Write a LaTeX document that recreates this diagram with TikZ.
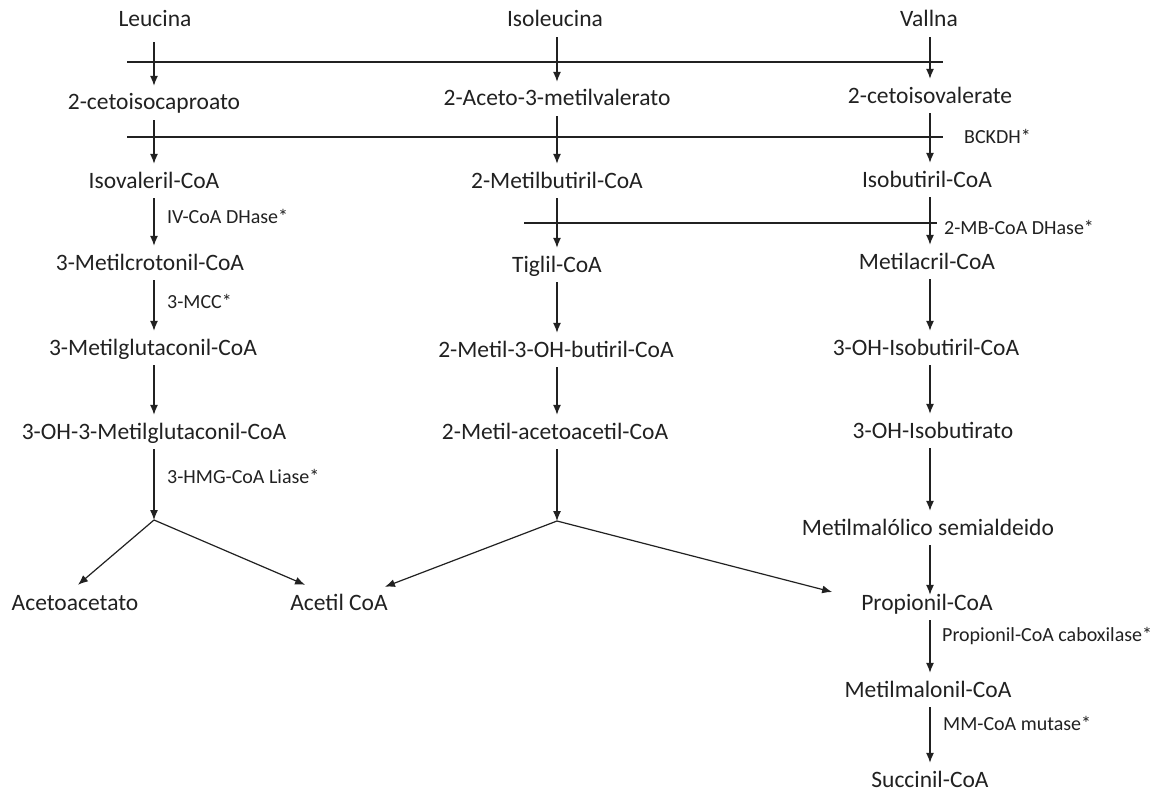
\documentclass[tikz,border=0pt]{standalone}
\usepackage{fontspec}
\setmainfont{Carlito}
\usetikzlibrary{arrows.meta,calc}
\definecolor{ink}{rgb}{0.13,0.13,0.13}
\begin{document}
\begin{tikzpicture}[x=1pt,y=-1pt,
  met/.style={anchor=base, inner xsep=0pt, inner ysep=0pt, text height=24pt, text depth=10pt,
              font=\fontsize{23.5}{28}\selectfont, text=ink},
  enz/.style={anchor=base west, inner sep=0pt, font=\fontsize{20}{24}\selectfont, text=ink},
  arr/.style={draw=ink, line width=1.2pt, -{Latex[length=10pt,width=8pt]}},
  blk/.style={draw=ink, line width=1.2pt}]
\fill[white] (0,0) rectangle (1160,792);
\useasboundingbox (0,0) rectangle (1160,792);

% columns
\coordinate (cL) at (154,0);
\coordinate (cI) at (557,0);
\coordinate (cV) at (930,0);
\coordinate (bL) at (154,520);
\coordinate (bI) at (557,521);

% metabolites
\node[met] (leu)  at (155,27)  {Leucina};
\node[met] (ile)  at (555,27)  {Isoleucina};
\node[met] (val)  at (929,27)  {Vallna};
\node[met] (kic)  at (154,110) {2-cetoisocaproato};
\node[met] (kmv)  at (557,106) {2-Aceto-3-metilvalerato};
\node[met] (kiv)  at (930,103) {2-cetoisovalerate};
\node[met] (ivc)  at (154,188) {Isovaleril-CoA};
\node[met] (mbc)  at (557,188) {2-Metilbutiril-CoA};
\node[met] (ibc)  at (927,187) {Isobutiril-CoA};
\node[met] (mcc)  at (150,270) {3-Metilcrotonil-CoA};
\node[met] (tig)  at (557,272) {Tiglil-CoA};
\node[met] (mac)  at (927,269) {Metilacril-CoA};
\node[met] (mgc)  at (153,355) {3-Metilglutaconil-CoA};
\node[met] (mhb)  at (556,357) {2-Metil-3-OH-butiril-CoA};
\node[met] (hibc) at (926,355) {3-OH-Isobutiril-CoA};
\node[met] (hmg)  at (154,439) {3-OH-3-Metilglutaconil-CoA};
\node[met] (maa)  at (555,439) {2-Metil-acetoacetil-CoA};
\node[met] (hib)  at (933,438) {3-OH-Isobutirato};
\node[met] (mms)  at (928,535) {Metilmalólico semialdeido};
\node[met] (aca)  at (75,610)  {Acetoacetato};
\node[met] (acc)  at (339,610) {Acetil CoA};
\node[met] (pro)  at (927,610) {Propionil-CoA};
\node[met] (mmc)  at (928,697) {Metilmalonil-CoA};
\node[met] (suc)  at (930,787) {Succinil-CoA};

% enzymes
\node[enz] (e1) at (964,143) {BCKDH*};
\node[enz] (e2) at (167,223) {IV-CoA DHase*};
\node[enz] (e3) at (944,234) {2-MB-CoA DHase*};
\node[enz] (e4) at (167,308) {3-MCC*};
\node[enz] (e5) at (167,483) {3-HMG-CoA Liase*};
\node[enz] (e6) at (942,641) {Propionil-CoA caboxilase*};
\node[enz] (e7) at (943,730) {MM-CoA mutase*};

% enzyme block lines
\coordinate (l1a) at (127,62);  \coordinate (l1b) at (943,62);
\coordinate (l2a) at (127,137); \coordinate (l2b) at (943,137);
\coordinate (l3a) at (524,223); \coordinate (l3b) at (937,223);
\draw[blk] (l1a) -- (l1b);
\draw[blk] (l2a) -- (l2b);
\draw[blk] (l3a) -- (l3b);

% leucine column
\draw[arr] ($(leu.south -| cL)+(0,5)$) -- (kic.north -| cL);
\draw[arr] (kic.south -| cL) -- (ivc.north -| cL);
\draw[arr] (ivc.south -| cL) -- (mcc.north -| cL);
\draw[arr] (mcc.south -| cL) -- (mgc.north -| cL);
\draw[arr] (mgc.south -| cL) -- (hmg.north -| cL);
\draw[arr] (hmg.south -| cL) -- (bL);

% isoleucine column
\draw[arr] (ile.south -| cI) -- (kmv.north -| cI);
\draw[arr] (kmv.south -| cI) -- (mbc.north -| cI);
\draw[arr] (mbc.south -| cI) -- (tig.north -| cI);
\draw[arr] (tig.south -| cI) -- (mhb.north -| cI);
\draw[arr] (mhb.south -| cI) -- (maa.north -| cI);
\draw[arr] (maa.south -| cI) -- (bI);

% valine column
\draw[arr] (val.south -| cV) -- (kiv.north -| cV);
\draw[arr] (kiv.south -| cV) -- (ibc.north -| cV);
\draw[arr] (ibc.south -| cV) -- (mac.north -| cV);
\draw[arr] (mac.south -| cV) -- (hibc.north -| cV);
\draw[arr] (hibc.south -| cV) -- (hib.north -| cV);
\draw[arr] (hib.south -| cV) -- (mms.north -| cV);
\draw[arr] (mms.south -| cV) -- ($(pro.north -| cV)+(0,9)$);
\draw[arr] (pro.south -| cV) -- (mmc.north -| cV);
\draw[arr] (mmc.south -| cV) -- (suc.north -| cV);

% branches
\draw[arr] (bL) -- ($(aca.north)+(3,-1)$);
\draw[arr] (bL) -- ($(acc.north west)+(15,-1)$);
\draw[arr] (bI) -- ($(acc.north east)+(-3,1)$);
\draw[arr] (bI) -- ($(pro.west)+(-29,-11)$);
\end{tikzpicture}
\end{document}
